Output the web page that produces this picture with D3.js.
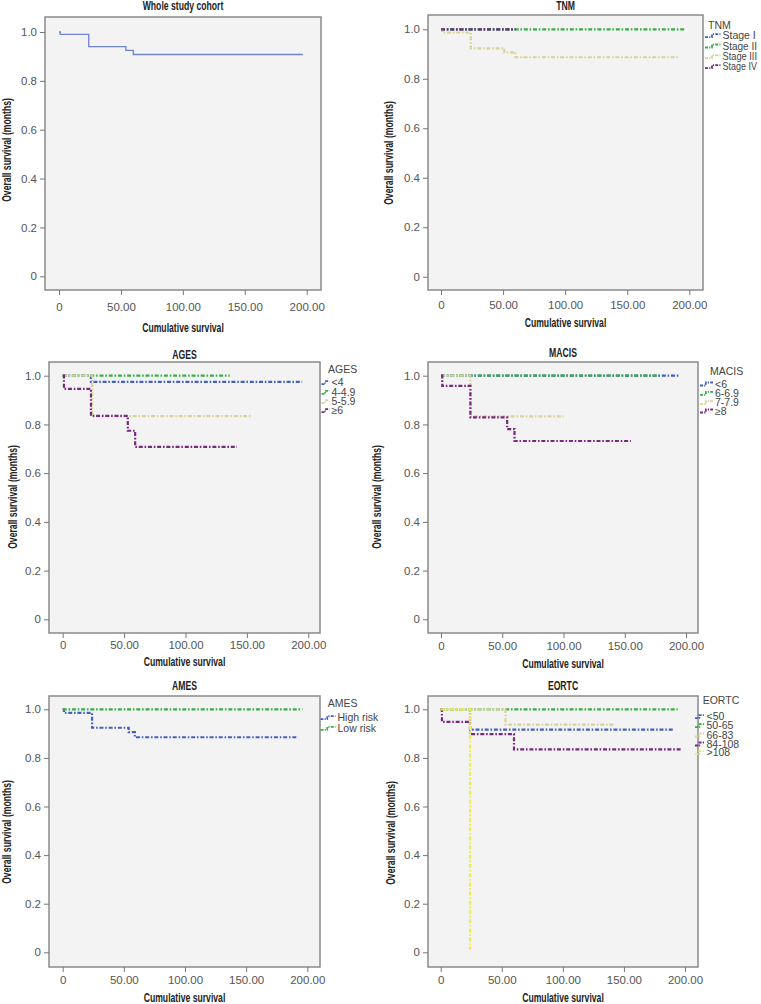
<!DOCTYPE html>
<html>
<head>
<meta charset="utf-8">
<style>
  body { margin: 0; background: #fff; }
  .tick text { font-family: "Liberation Sans", Arial, sans-serif; font-size: 11.5px; fill: #555; }
  .ttl { font-family: "Liberation Sans", Arial, sans-serif; font-weight: bold; font-size: 12px; fill: #222; }
  .leg { font-family: "Liberation Sans", Arial, sans-serif; font-size: 10.5px; fill: #444; }
</style>
</head>
<body>
<div id="chart"></div>
<script src="https://d3js.org/d3.v7.min.js"></script>
<script>
// axis ticks
var xTicks = [0, 50, 100, 150, 200];
var xTickLabels = ["0", "50.00", "100.00", "150.00", "200.00"];
var yTicks = [0, 0.2, 0.4, 0.6, 0.8, 1.0];
var yTickLabels = ["0", "0.2", "0.4", "0.6", "0.8", "1.0"];

// survival curves, [months, survival]
var wholeCohort = [[0,1],[1,0.99],[24,0.94],[54,0.925],[60,0.908],[197,0.908]];

var tnmNames = ["Stage I", "Stage II", "Stage III", "Stage IV"];
var tnmStage1 = [[0,1],[60,1]];
var tnmStage2 = [[0,1],[197,1]];
var tnmStage3 = [[0,1],[1,0.987],[24,0.923],[51,0.907],[60,0.887],[192,0.887]];
var tnmStage4 = [[0,1],[60,1]];

var agesNames = ["<4", "4-4.9", "5-5.9", "\u22656"];
var ages1 = [[0,1],[23,0.975],[195,0.975]];
var ages2 = [[0,1],[136,1]];
var ages3 = [[0,1],[24,0.834],[154,0.834]];
var ages4 = [[0,1],[1,0.946],[23,0.835],[53,0.774],[59,0.708],[142,0.708]];

var macisNames = ["<6", "6-6.9", "7-7.9", "\u22658"];
var macis1 = [[0,1],[195,1]];
var macis2 = [[0,1],[178,1]];
var macis3 = [[0,1],[24,0.833],[100,0.833]];
var macis4 = [[0,1],[1,0.958],[24,0.829],[54,0.781],[60,0.732],[155,0.732]];

var amesNames = ["High risk", "Low risk"];
var amesHigh = [[0,1],[1,0.985],[24,0.924],[54,0.906],[59,0.885],[192,0.885]];
var amesLow = [[0,1],[196,1]];

var eortcNames = ["<50", "50-65", "66-83", "84-108", ">108"];
var eortc1 = [[0,1],[24,0.916],[191,0.916]];
var eortc2 = [[0,1],[194,1]];
var eortc3 = [[0,1],[53,0.937],[143,0.937]];
var eortc4 = [[0,1],[1,0.948],[24,0.898],[60,0.835],[197,0.835]];
var eortc5 = [[0,1],[24,0.01]];

var BLUE = "#4560c2", GREEN = "#36b046", KHAKI = "#d8d396", PURPLE = "#78287f", YELLOW = "#f0ec48";

var panels = [
  {title: "Whole study cohort", frame: [45,17,321,290], xr: [59,306.7], yr: [276.3,32], titleY: 6, tickY: 307, xTitleY: 328, yTitleX: 7, yTitleY: 150,
   series: [{d: wholeCohort, c: "#6f82d4", solid: true}]},
  {title: "TNM", frame: [428,15,703,290], xr: [441,689.3], yr: [276.7,29.3], titleY: 6, tickY: 305, xTitleY: 322.5, yTitleX: 389, yTitleY: 153,
   series: [{d: tnmStage1, c: BLUE}, {d: tnmStage2, c: GREEN}, {d: tnmStage3, c: KHAKI}, {d: tnmStage4, c: PURPLE}],
   legend: {title: "TNM", names: tnmNames, tx: 708, ty: 25, ys: [35.7, 46, 56.7, 66.7], sx: 705, lx: 722.5}},
  {title: "AGES", frame: [49,362,320,633], xr: [62.7,308.3], yr: [619.3,375.7], titleY: 354.3, tickY: 645, xTitleY: 661.7, yTitleX: 13, yTitleY: 497,
   series: [{d: ages1, c: BLUE}, {d: ages2, c: GREEN}, {d: ages3, c: KHAKI}, {d: ages4, c: PURPLE}],
   legend: {title: "AGES", names: agesNames, tx: 328, ty: 369.3, ys: [382.7, 392.3, 401.7, 410.7], sx: 321.5, lx: 331.5}},
  {title: "MACIS", frame: [428,362,698,633], xr: [441,686], yr: [619.3,375.7], titleY: 352.3, tickY: 646, xTitleY: 663.3, yTitleX: 377, yTitleY: 497,
   series: [{d: macis1, c: BLUE}, {d: macis2, c: GREEN}, {d: macis3, c: KHAKI}, {d: macis4, c: PURPLE}],
   legend: {title: "MACIS", names: macisNames, tx: 710, ty: 371.7, ys: [384, 393.3, 402.7, 411], sx: 700, lx: 715}},
  {title: "AMES", frame: [49,696,320,967], xr: [62.7,307.3], yr: [952.3,709.3], titleY: 685.7, tickY: 980, xTitleY: 997.7, yTitleX: 7, yTitleY: 832,
   series: [{d: amesHigh, c: BLUE}, {d: amesLow, c: GREEN}],
   legend: {title: "AMES", names: amesNames, tx: 327.7, ty: 703.3, ys: [717.7, 728.3], sx: 320.5, lx: 337.5}},
  {title: "EORTC", frame: [428,696,698,967], xr: [440.7,685], yr: [952.3,709.3], titleY: 685.7, tickY: 980, xTitleY: 997.7, yTitleX: 391, yTitleY: 833,
   series: [{d: eortc1, c: BLUE}, {d: eortc2, c: GREEN}, {d: eortc3, c: KHAKI}, {d: eortc4, c: PURPLE}, {d: eortc5, c: YELLOW}],
   legend: {title: "EORTC", names: eortcNames, tx: 702.7, ty: 700, ys: [716.7, 725.7, 735, 744, 752.7], sx: 695, lx: 706.5}}
];

var svg = d3.select("#chart").append("svg")
  .attr("width", 761).attr("height", 1004);

var DASH = "4,1.8,1.6,1.8";

// narrow bold look: squeeze the text like a condensed face
function squeeze(t, k) {
  var w = t.node().getComputedTextLength();
  t.attr("textLength", w * k).attr("lengthAdjust", "spacingAndGlyphs");
}

panels.forEach(function(p) {
  var g = svg.append("g");
  var x = d3.scaleLinear().domain([0, 200]).range(p.xr);
  var y = d3.scaleLinear().domain([0, 1]).range(p.yr);
  var f = p.frame;

  g.append("rect")
    .attr("x", f[0]).attr("y", f[1])
    .attr("width", f[2] - f[0]).attr("height", f[3] - f[1])
    .attr("fill", "#f3f3f3").attr("stroke", "#8a8a8a").attr("stroke-width", 1.5);

  // y axis
  var ya = g.append("g").attr("transform", "translate(" + f[0] + ",0)")
    .call(d3.axisLeft(y).tickValues(yTicks).tickSize(5).tickPadding(3)
      .tickFormat(function(d, i) { return yTickLabels[i]; }));
  ya.select(".domain").remove();
  ya.selectAll(".tick line").attr("stroke", "#777");

  // x axis
  var xa = g.append("g").attr("transform", "translate(0," + f[3] + ")")
    .call(d3.axisBottom(x).tickValues(xTicks).tickSize(5)
      .tickFormat(function(d, i) { return xTickLabels[i]; }));
  xa.select(".domain").remove();
  xa.selectAll(".tick line").attr("stroke", "#777");
  xa.selectAll(".tick text").attr("y", p.tickY - f[3]).attr("dy", "0.35em");

  var cx = (f[0] + f[2]) / 2;
  squeeze(g.append("text").attr("class", "ttl").attr("x", cx).attr("y", p.titleY)
    .attr("text-anchor", "middle").attr("dy", "0.35em").text(p.title), 0.72);
  squeeze(g.append("text").attr("class", "ttl").attr("x", cx).attr("y", p.xTitleY)
    .attr("text-anchor", "middle").attr("dy", "0.35em").text("Cumulative survival"), 0.72);
  squeeze(g.append("text").attr("class", "ttl")
    .attr("transform", "translate(" + p.yTitleX + "," + p.yTitleY + ") rotate(-90)")
    .attr("text-anchor", "middle").attr("dy", "0.35em").text("Overall survival (months)"), 0.72);

  var line = d3.line().x(function(d) { return x(d[0]); }).y(function(d) { return y(d[1]); })
    .curve(d3.curveStepAfter);

  g.selectAll("path.km").data(p.series).enter().append("path")
    .attr("class", "km")
    .attr("d", function(s) { return line(s.d); })
    .attr("fill", "none")
    .attr("stroke", function(s) { return s.c; })
    .attr("stroke-width", function(s) { return s.solid ? 1.3 : 2.2; })
    .attr("stroke-dasharray", function(s) { return s.solid ? null : DASH; });

  if (p.legend) {
    var L = p.legend;
    var sw = L.lx - L.sx - 2;
    g.append("text").attr("class", "leg").attr("x", L.tx).attr("y", L.ty)
      .attr("dy", "0.35em").text(L.title);
    L.names.forEach(function(n, i) {
      var yy = L.ys[i];
      g.append("path")
        .attr("d", "M" + L.sx + "," + (yy + 1.5) + "h" + (sw * 0.45) + "v-3h" + (sw * 0.55))
        .attr("fill", "none").attr("stroke", p.series[i].c).attr("stroke-width", 1.8)
        .attr("stroke-dasharray", "3,1.2,1.2,1.2");
      var t = g.append("text").attr("class", "leg").attr("x", L.lx).attr("y", yy)
        .attr("dy", "0.35em").text(n);
      // keep the longest labels inside the page edge
      var room = 757 - L.lx;
      if (t.node().getComputedTextLength() > room) {
        t.attr("textLength", room).attr("lengthAdjust", "spacingAndGlyphs");
      }
    });
  }
});
</script>
</body>
</html>
